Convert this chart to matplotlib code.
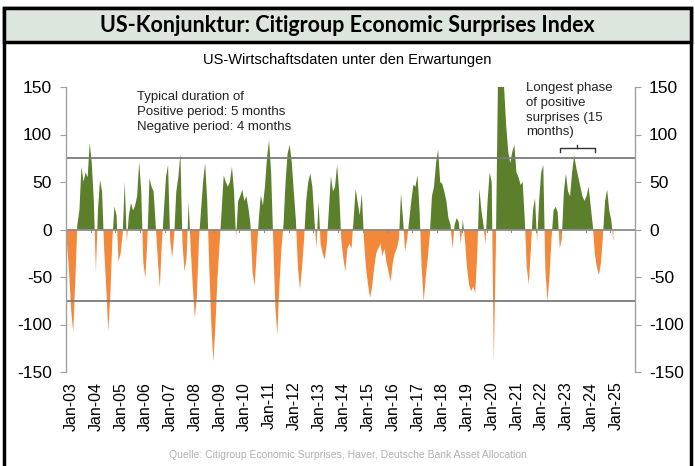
import numpy as np
import matplotlib.pyplot as plt
from matplotlib.patches import Rectangle

# monthly values of the Citigroup Economic Surprise Index (US)
csi_2003_2007 = [-15, -45, -85, -108, -55, 5, 20, 66, 50, 60, 55, 91,
                 70, 30, -45, 20, 52, 40, -20, -60, -107, -70, -10, 24,
                 15, -34, -25, -5, 50, -13, 15, 28, 20, 25, 35, 71,
                 40, -35, -51, -10, 54, 45, 40, 5, -30, -62, -15, 20,
                 55, 68, -10, -30, -5, 40, 55, 80, -15, -44, -30, 29]
csi_2008_2012 = [-20, -60, -93, -70, -10, 20, 50, 70, 30, -40, -100, -139,
                 -100, -50, -15, 20, 57, 50, 45, 50, 66, 40, -10, 30,
                 35, 42, 30, 35, 22, 5, -45, -60, -25, 10, 36, 25,
                 45, 75, 94, 60, -10, -80, -111, -60, -20, 5, 50, 80,
                 89, 71, 40, 10, -40, -63, -40, -10, 30, 50, 59, 45]
csi_2013_2017 = [10, -20, 29, -15, -25, -32, -15, 20, 56, 40, 45, 68,
                 40, -10, -30, -44, -20, -15, -20, 10, 43, 28, 15, 38,
                 -10, -40, -58, -72, -60, -40, -25, -20, -15, -28, -20, -35,
                 -45, -55, -35, -25, -20, -10, 38, 10, -23, -10, 10, 30,
                 47, 45, 57, 20, -40, -76, -50, -30, -5, 35, 45, 70]
csi_2018_2022 = [84, 50, 48, 40, 30, 12, 5, -20, 5, 12, 8, -15,
                 10, -10, -40, -58, -65, -60, -67, -25, 43, 20, 5, -15,
                 30, 60, 50, -140, -20, 150, 150, 150, 150, 110, 82, 70,
                 82, 89, 60, 55, 47, 50, 12, -40, -58, -20, 20, 33,
                 -13, 30, 60, 68, -40, -76, -50, -10, 20, 24, 18, -20]
csi_2023_2025 = [-10, 40, 59, 40, 35, 60, 78, 65, 55, 45, 35, 30,
                 35, 45, 25, 5, -25, -40, -48, -35, -5, 30, 42, 20,
                 10, -13]

years = list(range(2003, 2026))
year_labels = [f"Jan-{y % 100:02d}" for y in years]
y_ticks = [-150, -100, -50, 0, 50, 100, 150]
threshold = 75
phase_start, phase_end = 2022.95, 2024.4   # longest positive phase

values = np.array(csi_2003_2007 + csi_2008_2012 + csi_2013_2017 + csi_2018_2022 + csi_2023_2025, dtype=float)
months = 2003 + (np.arange(len(values)) + 0.5) / 12

green = '#5b7f2b'
orange = '#f4883a'
grey = '#8c8c8c'

W, H = 695, 466
fig = plt.figure(figsize=(W / 100, H / 100), dpi=100)
ax = fig.add_axes([66 / W, 1 - 372 / H, 569 / W, 285 / H])

ax.fill_between(months, values, 0, where=values >= 0, interpolate=True, color=green, lw=0)
ax.fill_between(months, values, 0, where=values <= 0, interpolate=True, color=orange, lw=0)

ax.axhline(0, color=grey, lw=1.3)
ax.axhline(threshold, color='#7a7a7a', lw=1.3)
ax.axhline(-threshold, color='#7a7a7a', lw=1.3)

ax.set_xlim(2003, 2026)
ax.set_ylim(-150, 150)

ax.spines['top'].set_visible(False)
ax.spines['bottom'].set_visible(False)
for side in ('left', 'right'):
    ax.spines[side].set_color('#a0a0a0')
    ax.spines[side].set_linewidth(1.0)

ax.set_yticks(y_ticks)
ax.set_yticklabels([str(v) for v in y_ticks], fontfamily='Liberation Sans', fontsize=12.5)
ax.tick_params(axis='y', which='both', left=True, right=True, labelleft=True, labelright=True,
               direction='out', length=4, color='#a0a0a0', pad=6)

ax.set_xticks([y + 0.22 for y in years])
ax.set_xticklabels(year_labels, rotation=90, fontfamily='Liberation Sans', fontsize=11.5)
ax.tick_params(axis='x', length=0, pad=7)

# small year tick marks on the zero line
for y in years:
    ax.plot([y, y], [0, -2.5], color=grey, lw=0.8)

# annotations
narrow = ['Liberation Sans Narrow', 'Liberation Sans']
ax.text(2005.85, 146, 'Typical duration of\nPositive period: 5 months\nNegative period: 4 months',
        fontsize=9.5, family=narrow, va='top', ha='left', linespacing=1.35, color='#222222')
ax.text(2021.6, 155, 'Longest phase\nof positive\nsurprises (15\nmonths)',
        fontsize=9.5, family=narrow, va='top', ha='left', linespacing=1.3, color='#222222')
mid = (phase_start + phase_end) / 2
ax.plot([phase_start, phase_start, phase_end, phase_end], [82, 86, 86, 82], color='#333333', lw=1)
ax.plot([mid, mid], [86, 89], color='#333333', lw=1)

# title box and frame
fig.add_artist(Rectangle((4 / W, -0.05), 687 / W, 1 - 8 / H + 0.05, transform=fig.transFigure,
                         facecolor='none', edgecolor='black', lw=2.5))
fig.add_artist(Rectangle((4 / W, 1 - 42 / H), 687 / W, 34 / H, transform=fig.transFigure,
                         facecolor='#dde6dc', edgecolor='black', lw=2.5))
fig.text(0.5, 1 - 25 / H, 'US-Konjunktur: Citigroup Economic Surprises Index',
         fontsize=15.5, fontweight='bold', family='Lato', ha='center', va='center')
fig.text(0.5, 1 - 60 / H, 'US-Wirtschaftsdaten unter den Erwartungen',
         fontsize=10.5, family='Liberation Sans', ha='center', va='center')
fig.text(0.5, 1 - 455 / H, 'Quelle: Citigroup Economic Surprises, Haver, Deutsche Bank Asset Allocation',
         fontsize=7.5, family='Liberation Sans', ha='center', va='center', color='#b0b0b0')

fig.savefig('out.png', dpi=100)
